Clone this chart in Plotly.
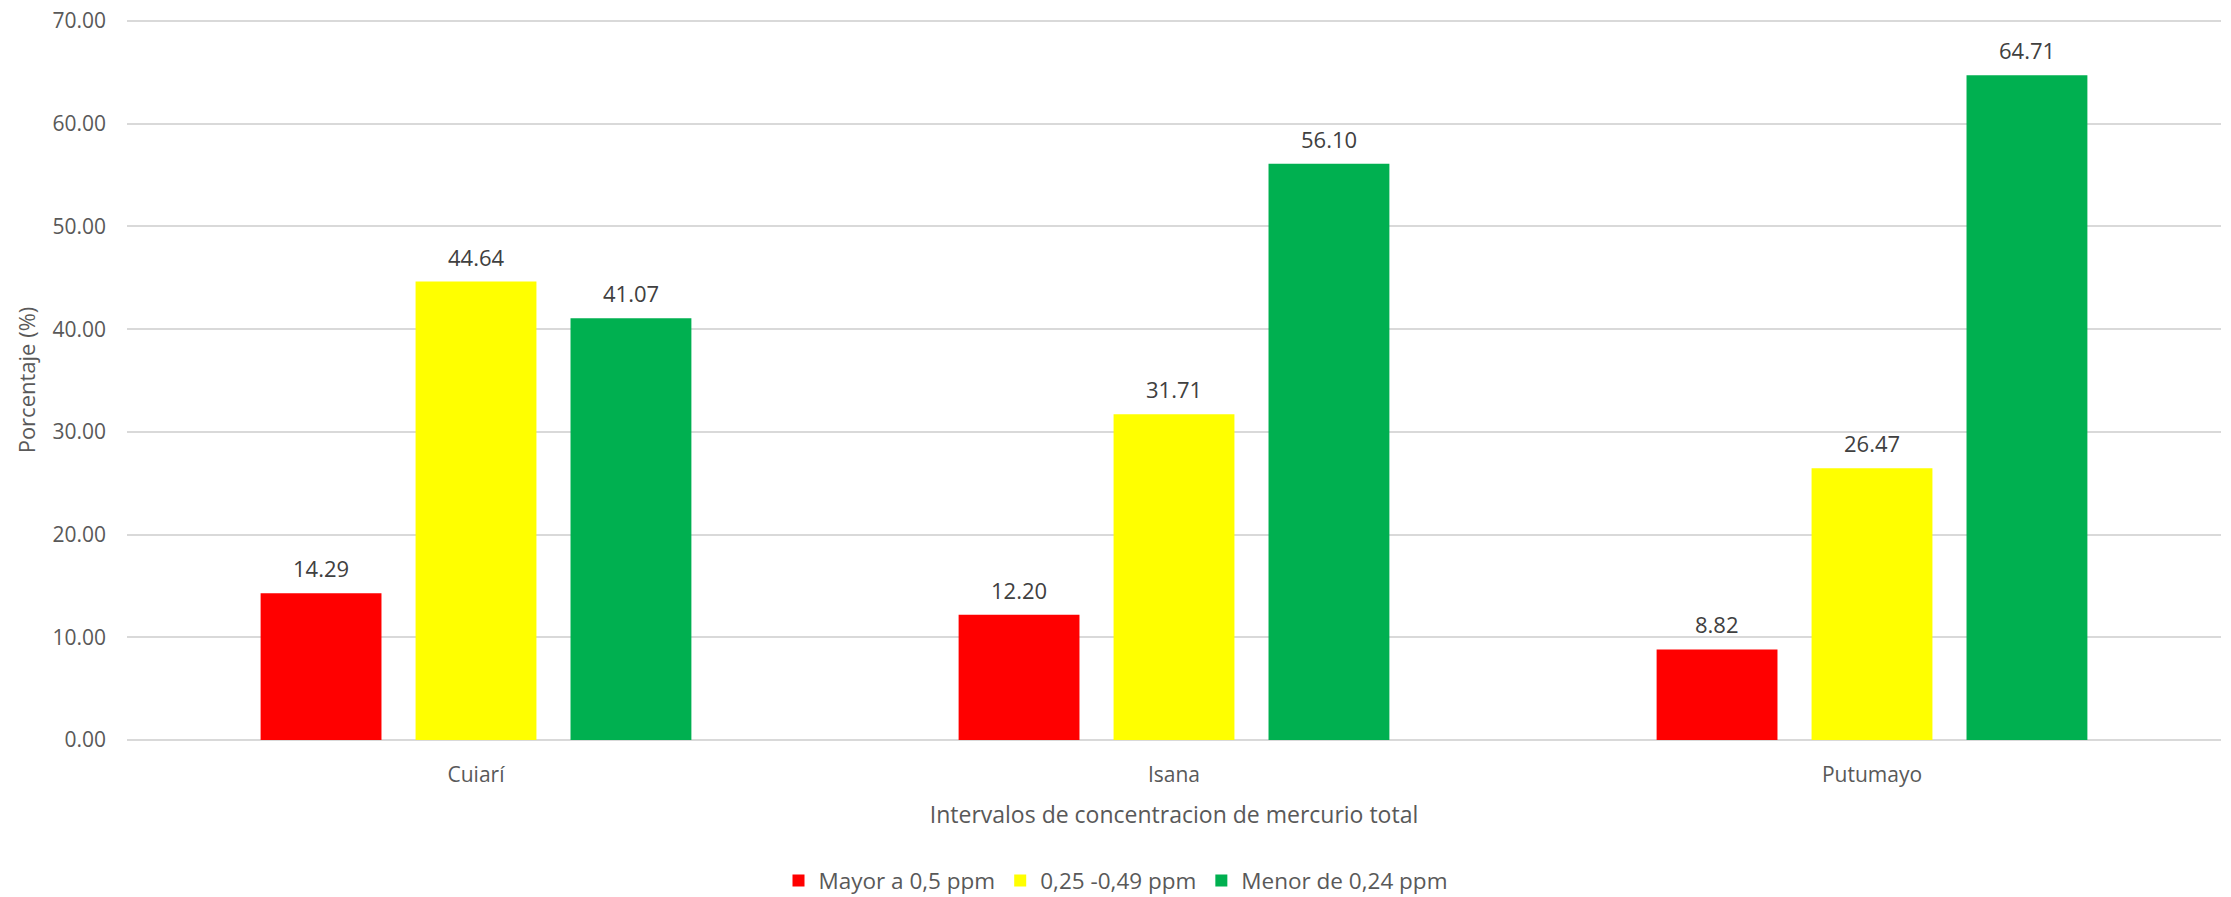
import plotly.graph_objects as go

categories = ["Cuiarí", "Isana", "Putumayo"]
series_names = ["Mayor a 0,5 ppm", "0,25 -0,49 ppm", "Menor de 0,24 ppm"]
mayor = [14.29, 12.20, 8.82]
medio = [44.64, 31.71, 26.47]
menor = [41.07, 56.10, 64.71]
y_ticks = [0, 10, 20, 30, 40, 50, 60, 70]

colors = ["#FF0000", "#FFFF00", "#00B050"]
series = [mayor, medio, menor]

FONT = "Open Sans"
fig = go.Figure()
for name, vals, col in zip(series_names, series, colors):
    fig.add_trace(go.Bar(x=categories, y=vals, name=name, marker=dict(color=col, line=dict(width=0))))

shifts = [-155, 0, 155]
for vals, sh in zip(series, shifts):
    for c, v in zip(categories, vals):
        fig.add_annotation(x=c, y=v, text=f"{v:.2f}", showarrow=False, xshift=sh, yshift=8,
                           yanchor="bottom", font=dict(family=FONT, size=22, color="#404040"))

fig.update_layout(
    width=2231, height=897,
    margin=dict(l=127, r=10, t=20, b=157, autoexpand=False),
    barmode="group", bargap=0.334, bargroupgap=0.22,
    plot_bgcolor="white", paper_bgcolor="white",
    font=dict(family=FONT, size=21, color="#595959"),
    legend=dict(orientation="h", xref="container", yref="container", x=0.5, xanchor="center",
                y=0.018, yanchor="middle", font=dict(family=FONT, size=22.5, color="#595959"),
                itemwidth=30, traceorder="normal"),
    showlegend=True,
)
fig.update_xaxes(showgrid=False, showline=False, ticks="", ticklabelstandoff=20,
                 tickfont=dict(family=FONT, size=21, color="#595959"),
                 title=dict(text="Intervalos de concentracion de mercurio total", standoff=19,
                            font=dict(family=FONT, size=23, color="#595959")))
fig.update_yaxes(range=[0, 70.1], autorange=False, tickvals=y_ticks, tickformat=".2f", showgrid=True,
                 gridcolor="#D9D9D9", gridwidth=2, zeroline=True, zerolinecolor="#D9D9D9", zerolinewidth=2,
                 showline=False, ticks="", ticklabelstandoff=20,
                 tickfont=dict(family=FONT, size=21, color="#595959"),
                 title=dict(text="Porcentaje (%)", standoff=10, font=dict(family=FONT, size=22, color="#595959")))

fig.write_html("out.html", config={"displayModeBar": False},
               post_script="document.body.style.margin='0';document.body.style.overflow='hidden';")
